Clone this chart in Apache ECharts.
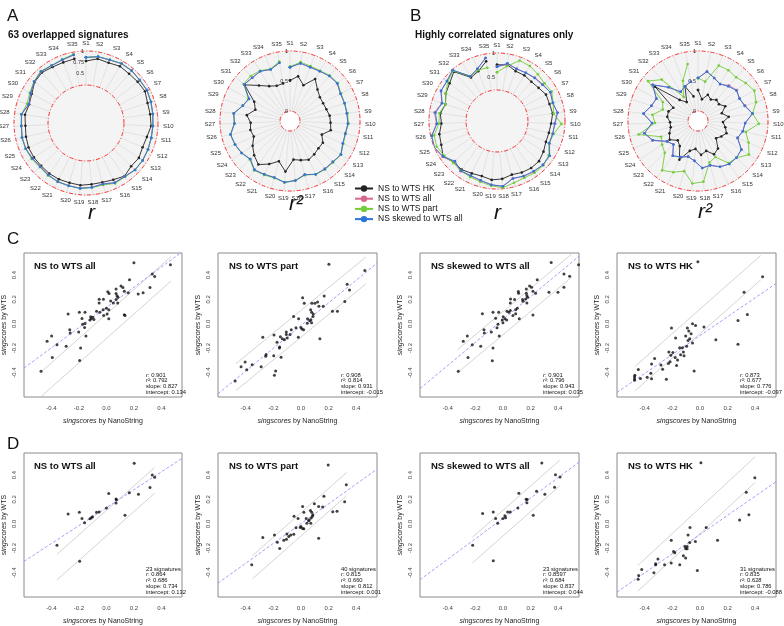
<!DOCTYPE html>
<html><head><meta charset="utf-8">
<script src="https://cdn.jsdelivr.net/npm/echarts@6/dist/echarts.min.js"></script>
<style>html,body{margin:0;padding:0;background:#fff}#c{width:784px;height:626px}</style>
</head><body><div id="c"></div>
<script>
// ---------------- DATA ----------------
const SIGNATURES = ['S1','S2','S3','S4','S5','S6','S7','S8','S9','S10','S11','S12','S13','S14','S15','S16','S17','S18','S19','S20','S21','S22','S23','S24','S25','S26','S27','S28','S29','S30','S31','S32','S33','S34','S35'];
const SERIES_NAMES = ['NS to WTS HK','NS to WTS all','NS to WTS part','NS skewed to WTS all'];

// Panel A, r
const A_r_HK     = [0.78,0.85,0.83,0.87,0.855,0.87,0.89,0.84,0.84,0.85,0.79,0.77,0.81,0.79,0.86,0.80,0.77,0.77,0.79,0.78,0.79,0.79,0.78,0.79,0.79,0.77,0.75,0.77,0.73,0.77,0.86,0.89,0.85,0.84,0.85];
const A_r_all    = [0.855,0.895,0.895,0.935,0.94,0.925,0.935,0.915,0.895,0.885,0.885,0.895,0.905,0.905,0.865,0.87,0.805,0.835,0.855,0.845,0.845,0.825,0.805,0.825,0.855,0.855,0.835,0.845,0.735,0.795,0.87,0.915,0.885,0.895,0.935];
const A_r_part   = [0.86,0.90,0.90,0.94,0.945,0.93,0.94,0.92,0.90,0.89,0.89,0.90,0.91,0.91,0.88,0.89,0.83,0.84,0.86,0.85,0.85,0.84,0.82,0.85,0.86,0.86,0.84,0.85,0.78,0.82,0.88,0.93,0.89,0.91,0.955];
const A_r_skewed = [0.86,0.90,0.90,0.94,0.945,0.93,0.94,0.92,0.90,0.89,0.89,0.90,0.91,0.91,0.87,0.875,0.81,0.84,0.86,0.85,0.85,0.83,0.81,0.83,0.86,0.86,0.84,0.85,0.74,0.80,0.875,0.92,0.89,0.90,0.94];
// Panel A, r^2
const A_r2_HK     = [0.51,0.59,0.47,0.65,0.53,0.47,0.46,0.47,0.50,0.51,0.53,0.41,0.49,0.49,0.52,0.55,0.51,0.48,0.68,0.53,0.63,0.73,0.66,0.58,0.49,0.51,0.49,0.56,0.44,0.51,0.80,0.62,0.51,0.46,0.47];
const A_r2_all    = [0.73,0.81,0.79,0.80,0.83,0.84,0.79,0.79,0.79,0.80,0.78,0.79,0.85,0.82,0.82,0.82,0.76,0.83,0.86,0.81,0.82,0.84,0.75,0.80,0.83,0.85,0.76,0.78,0.66,0.61,0.81,0.79,0.80,0.75,0.82];
const A_r2_part   = [0.74,0.83,0.81,0.81,0.84,0.85,0.80,0.79,0.80,0.81,0.78,0.80,0.85,0.83,0.83,0.82,0.77,0.83,0.86,0.82,0.83,0.85,0.76,0.80,0.83,0.85,0.76,0.78,0.66,0.62,0.82,0.83,0.81,0.76,0.84];
const A_r2_skewed = [0.73,0.81,0.79,0.80,0.83,0.84,0.79,0.79,0.79,0.80,0.78,0.79,0.85,0.82,0.82,0.82,0.76,0.83,0.86,0.81,0.82,0.84,0.75,0.80,0.83,0.85,0.76,0.78,0.66,0.61,0.81,0.79,0.80,0.75,0.82];
// Panel B, r
const B_r_HK     = [0.76,0.78,0.70,0.70,0.68,0.70,0.75,0.74,0.76,0.72,0.70,0.70,0.75,0.80,0.80,0.78,0.75,0.80,0.82,0.78,0.80,0.84,0.83,0.93,0.85,0.82,0.75,0.78,0.72,0.80,0.85,0.95,0.65,0.70,0.85];
const B_r_all    = [0.72,0.80,0.75,0.76,0.79,0.81,0.85,0.81,0.86,0.80,0.78,0.78,0.90,0.91,0.89,0.87,0.83,0.95,0.92,0.87,0.86,0.88,0.82,0.94,1.00,0.98,0.85,0.90,0.80,0.91,0.92,0.99,0.68,0.75,0.92];
const B_r_part   = [0.61,0.75,0.93,0.92,0.88,0.85,0.88,0.82,0.78,0.93,0.80,0.77,0.88,0.92,0.92,0.90,0.92,0.98,0.94,0.90,0.88,0.86,0.85,0.90,0.95,0.93,0.80,0.80,0.72,0.80,0.90,0.97,0.68,0.72,0.72];
const B_r_skewed = [0.72,0.81,0.75,0.76,0.78,0.80,0.85,0.81,0.86,0.79,0.78,0.77,0.90,0.91,0.88,0.86,0.83,0.95,0.92,0.87,0.85,0.87,0.80,0.93,1.00,0.98,0.84,0.88,0.79,0.91,0.92,0.99,0.68,0.75,0.92];
// Panel B, r^2
const B_r2_HK     = [0.35,0.20,0.30,0.25,0.30,0.28,0.35,0.25,0.35,0.25,0.30,0.35,0.30,0.25,0.40,0.45,0.35,0.40,0.30,0.35,0.55,0.35,0.30,0.40,0.35,0.30,0.30,0.35,0.35,0.30,0.75,0.30,0.20,0.45,0.25];
const B_r2_all    = [0.55,0.67,0.60,0.55,0.62,0.66,0.62,0.66,0.75,0.62,0.60,0.55,0.70,0.72,0.72,0.68,0.60,0.62,0.50,0.45,0.50,0.55,0.40,0.45,0.66,0.75,0.60,0.75,0.65,0.62,0.80,0.58,0.40,0.45,0.50];
const B_r2_part   = [0.55,0.50,0.82,0.82,0.80,0.85,0.90,0.85,0.75,0.85,0.65,0.75,0.85,0.72,0.70,0.50,0.55,0.85,0.88,0.70,0.78,0.85,0.60,0.55,0.50,0.85,0.55,0.60,0.45,0.50,0.90,0.75,0.30,0.55,0.80];
const B_r2_skewed = [0.55,0.67,0.60,0.55,0.60,0.65,0.62,0.65,0.75,0.62,0.60,0.55,0.70,0.72,0.72,0.68,0.60,0.62,0.50,0.45,0.50,0.55,0.40,0.45,0.65,0.75,0.60,0.75,0.65,0.62,0.80,0.58,0.40,0.45,0.50];

// Panel C scatter (NanoString x, WTS y)
const C1_points = [[0.20,0.50],[0.466,0.483],[0.334,0.407],[0.351,0.388],[0.168,0.361],[0.317,0.298],[0.267,0.255],[0.231,0.244],[0.106,0.309],[0.12,0.298],[0.07,0.285],[0.13,0.266],[0.159,0.255],[0.01,0.263],[0.019,0.249],[0.07,0.249],[0.077,0.23],[0.084,0.217],[0.07,0.198],[-0.053,0.2],[-0.022,0.2],[0.031,0.187],[0.05,0.171],[0.082,0.171],[-0.053,0.171],[0,0.127],[-0.024,0.114],[0.017,0.114],[-0.072,0.103],[-0.048,0.095],[0.005,0.081],[-0.02,0.068],[0.017,0.041],[0.13,0.073],[0.135,0.068],[-0.197,0.095],[-0.156,0.095],[-0.279,0.081],[-0.178,0.043],[-0.115,0.057],[-0.11,0.041],[-0.1,0.054],[-0.12,0.03],[-0.091,0.035],[-0.156,0.003],[-0.173,-0.003],[-0.159,-0.03],[-0.267,-0.049],[-0.264,-0.076],[-0.202,-0.068],[-0.149,-0.1],[-0.399,-0.1],[-0.432,-0.144],[-0.36,-0.171],[-0.293,-0.184],[-0.188,-0.198],[-0.394,-0.277],[-0.195,-0.301],[-0.476,-0.388]];
const C2_points = [[0.202,0.488],[0.462,0.437],[0.334,0.323],[0.351,0.277],[0.168,0.228],[0.012,0.214],[0.079,0.168],[0.101,0.168],[0.12,0.179],[0.13,0.144],[0.161,0.144],[0.317,0.182],[0.264,0.103],[0.228,0.103],[0.07,0.114],[0.077,0.095],[0.089,0.081],[0.024,0.168],[-0.053,0.06],[-0.017,0.041],[0.048,0.041],[0.087,0.06],[0.063,0.024],[0.046,0.005],[0.077,0.008],[0.072,0.032],[0,-0.03],[0.007,-0.043],[0.019,-0.049],[-0.036,-0.033],[-0.019,-0.111],[0.137,-0.122],[-0.07,-0.049],[-0.106,-0.068],[-0.079,-0.087],[-0.106,-0.087],[-0.099,-0.117],[-0.135,-0.122],[-0.12,-0.13],[-0.149,-0.106],[-0.195,-0.092],[-0.276,-0.111],[-0.173,-0.152],[-0.154,-0.19],[-0.156,-0.198],[-0.144,-0.274],[-0.252,-0.252],[-0.255,-0.266],[-0.197,-0.263],[-0.404,-0.314],[-0.353,-0.336],[-0.433,-0.352],[-0.392,-0.377],[-0.288,-0.352],[-0.183,-0.387],[-0.192,-0.422],[-0.476,-0.468]];
const C3_points = [[0.349,0.503],[0.547,0.484],[0.441,0.408],[0.482,0.389],[0.248,0.361],[0.441,0.299],[0.398,0.258],[0.333,0.258],[0.193,0.31],[0.207,0.299],[0.169,0.285],[0.217,0.266],[0.236,0.25],[0.111,0.264],[0.113,0.25],[0.169,0.25],[0.173,0.231],[0.178,0.217],[0.164,0.204],[0.142,0.198],[0.055,0.204],[0.084,0.198],[0.145,0.185],[0.173,0.171],[0.053,0.171],[0.104,0.128],[0.053,0.109],[0.092,0.114],[0.029,0.103],[0.043,0.095],[0.092,0.082],[0.072,0.068],[0.118,0.041],[0.217,0.071],[-0.149,0.082],[-0.072,0.095],[-0.031,0.095],[-0.053,0.046],[0.002,0.057],[0.014,0.041],[-0.005,0.03],[0.027,0.03],[0,0.008],[-0.036,-0.003],[-0.043,-0.033],[-0.137,-0.049],[-0.135,-0.076],[-0.084,-0.068],[-0.027,-0.1],[-0.258,-0.1],[-0.287,-0.144],[-0.222,-0.171],[-0.161,-0.185],[-0.072,-0.198],[-0.253,-0.277],[-0.077,-0.302],[-0.323,-0.389]];
const C4_points = [[-0.015,0.508],[0.453,0.386],[0.319,0.258],[0.343,0.076],[0.275,0.027],[0.275,-0.168],[0.115,-0.13],[-0.054,0],[-0.032,-0.014],[0.029,-0.027],[-0.206,-0.035],[-0.091,-0.035],[-0.081,-0.06],[-0.064,-0.082],[-0.103,-0.1],[-0.074,-0.122],[-0.086,-0.136],[-0.176,-0.117],[-0.054,-0.158],[-0.127,-0.196],[-0.147,-0.196],[-0.096,-0.185],[-0.12,-0.231],[-0.14,-0.253],[-0.115,-0.261],[-0.196,-0.236],[-0.225,-0.231],[-0.211,-0.258],[-0.179,-0.277],[-0.162,-0.296],[-0.216,-0.312],[-0.228,-0.326],[-0.169,-0.342],[-0.328,-0.285],[-0.35,-0.329],[-0.282,-0.337],[-0.27,-0.372],[-0.042,-0.386],[-0.446,-0.375],[-0.355,-0.405],[-0.382,-0.438],[-0.431,-0.448],[-0.471,-0.421],[-0.473,-0.435],[-0.473,-0.45],[-0.473,-0.462],[-0.35,-0.451],[-0.243,-0.454]];
// Panel D scatter
const D1_points = [[0.202,0.497],[0.334,0.40],[0.351,0.381],[0.317,0.297],[0.233,0.243],[0.166,0.254],[0.017,0.249],[0.07,0.203],[0.072,0.197],[0.07,0.17],[0,0.13],[-0.053,0.097],[-0.072,0.095],[-0.197,0.095],[-0.279,0.081],[-0.178,0.043],[-0.101,0.057],[-0.12,0.041],[-0.11,0.05],[-0.159,0.008],[0.135,0.07],[-0.36,-0.176],[-0.195,-0.308]];
const D2_points = [[0.197,0.481],[0.328,0.32],[0.316,0.18],[0.166,0.226],[0.097,0.164],[0.157,0.137],[0.128,0.142],[0.012,0.142],[0.021,0.094],[0.069,0.108],[0.078,0.094],[0.086,0.075],[0.083,0.062],[0.23,0.099],[0.261,0.102],[-0.05,0.062],[-0.021,0.043],[0.038,0.043],[0.074,0.048],[0.055,0.024],[0.071,0.005],[0.043,0.005],[0,-0.022],[0.012,-0.038],[0.021,-0.04],[-0.036,-0.032],[0.128,-0.118],[-0.052,-0.086],[-0.074,-0.091],[-0.102,-0.083],[-0.192,-0.091],[-0.276,-0.113],[-0.088,-0.105],[-0.105,-0.126],[-0.124,-0.134],[-0.171,-0.151],[-0.154,-0.202],[-0.356,-0.336],[-0.005,-0.03],[0.06,0.03]];
const D3_points = [[0.281,0.499],[0.38,0.402],[0.413,0.383],[0.373,0.299],[0.243,0.267],[0.303,0.243],[0.115,0.251],[0.168,0.202],[0.175,0.199],[0.173,0.172],[0.108,0.129],[0.053,0.097],[0.034,0.097],[-0.07,0.097],[-0.147,0.084],[-0.053,0.043],[0.014,0.065],[0,0.043],[0.019,0.049],[-0.038,0.005],[0.219,0.07],[-0.219,-0.175],[-0.07,-0.302]];
const D4_points = [[0.007,0.501],[0.397,0.378],[0.335,0.259],[0.354,0.075],[0.287,0.03],[-0.072,-0.03],[0.045,-0.03],[0.127,-0.135],[-0.033,-0.146],[-0.086,-0.092],[-0.074,-0.154],[-0.108,-0.186],[-0.093,-0.186],[-0.103,-0.205],[-0.208,-0.135],[-0.191,-0.227],[-0.182,-0.238],[-0.12,-0.262],[-0.103,-0.281],[-0.146,-0.335],[-0.208,-0.321],[-0.304,-0.289],[-0.32,-0.327],[-0.32,-0.335],[-0.256,-0.335],[-0.333,-0.402],[-0.421,-0.375],[-0.443,-0.423],[-0.447,-0.455],[-0.019,-0.383],[-0.093,-0.205]];

const PANEL_TITLES = ['NS to WTS all','NS to WTS part','NS skewed to WTS all','NS to WTS HK'];
const C_r   = ['0.901','0.908','0.901','0.873'];
const C_r2  = ['0.792','0.814','0.796','0.677'];
const C_slope = [0.827,0.931,0.943,0.776];
const C_intercept = [0.134,-0.015,0.035,-0.097];
const D_n   = [23,40,23,31];
const D_r   = ['0.864','0.815','0.8597','0.835'];
const D_r2  = ['0.686','0.660','0.684','0.628'];
const D_slope = [0.734,0.812,0.837,0.786];
const D_intercept = [0.132,0.001,0.044,-0.088];
// grey guide lines: [slope, upper offset, lower offset, x from, x to]
const C_guides = [[1.0,0.08,-0.12,-0.47,0.47],[0.93,0.11,-0.11,-0.47,0.47],[0.95,0.10,-0.09,-0.33,0.50],[1.0,0.12,-0.08,-0.47,0.44]];
const D_guides = [[1.0,0.11,-0.10,-0.36,0.35],[1.0,0.09,-0.10,-0.35,0.33],[1.0,0.11,-0.10,-0.22,0.41],[1.05,0.13,-0.08,-0.45,0.40]];

// ---------------- STYLE ----------------
const FONT = 'Liberation Sans';
const COLORS = ['#232323','#d7698f','#73cc3a','#2f74d8'];
const chart = echarts.init(document.getElementById('c'), null, {renderer:'canvas'});

const radarSets = [
  [A_r_HK, A_r_all, A_r_part, A_r_skewed],
  [A_r2_HK, A_r2_all, A_r2_part, A_r2_skewed],
  [B_r_HK, B_r_all, B_r_part, B_r_skewed],
  [B_r2_HK, B_r2_all, B_r2_part, B_r2_skewed]
];
const polarCfg = [
  {center:[86,123], radius:[38,72], min:0.25, max:1, interval:0.25, labels:[0.5,0.75,1]},
  {center:[290,121], radius:[10,70], min:0, max:1, interval:0.5, labels:[0,0.5,1]},
  {center:[497,121], radius:[31,68], min:0.25, max:1, interval:0.25, labels:[0.5,1]},
  {center:[698,121], radius:[10,70], min:0, max:1, interval:0.5, labels:[0,0.5,1]}
];

const polar = polarCfg.map(p => ({center:p.center, radius:p.radius}));
const angleAxis = polarCfg.map((p,i) => ({
  polarIndex:i, type:'category', data:SIGNATURES, startAngle:90, clockwise:true, boundaryGap:false,
  axisLine:{show:true, lineStyle:{color:'#ff3535', width:1, type:[4,2,1,2]}},
  axisTick:{show:false},
  axisLabel:{fontSize:6, color:'#333', margin:5, fontFamily:FONT},
  splitLine:{show:true, lineStyle:{color:'#d6d6d6', width:0.6}}
}));
const radiusAxis = polarCfg.map((p,i) => ({
  polarIndex:i, min:p.min, max:p.max, interval:p.interval,
  axisLine:{show:false}, axisTick:{show:false},
  axisLabel:{fontSize:5.5, color:'#333', fontFamily:FONT, margin:2,
    formatter: v => p.labels.some(l => Math.abs(l-v)<1e-6) ? String(+v.toFixed(2)) : ''},
  splitLine:{show:true, lineStyle:{color:'#a8a8a8', width:0.6, type:[3,2]}},
  splitArea:{show:true, areaStyle:{color:['#f3f3f3']}}
}));

const series = [];
radarSets.forEach((set, pi) => {
  set.forEach((vals, k) => {
    series.push({
      type:'line', name:SERIES_NAMES[k], coordinateSystem:'polar', polarIndex:pi,
      data: vals.map((v,i)=>[v,i]).concat([[vals[0],0]]),
      symbol:'circle', symbolSize:2.6, showSymbol:true,
      lineStyle:{width:0.9, color:COLORS[k]}, itemStyle:{color:COLORS[k]},
      z: 3+k, animation:false, silent:true
    });
  });
});

// scatter grids
const gridLefts = [23,218,420,617];
const grids = [], xAxes = [], yAxes = [];
const tickFmt = v => {
  if (v < -0.41 || v > 0.41) return '';
  if (Math.abs(v) < 1e-9) return '0.0';
  return v.toFixed(1);
};
const italicRich = {i:{fontStyle:'italic', fontSize:7, fontFamily:FONT, color:'#222'}};
[253,453].forEach((top,row) => {
  gridLefts.forEach((left,col) => {
    const gi = grids.length;
    grids.push({left:left, top:top, width:159, height:144, show:true, borderColor:'#8a8a8a', borderWidth:1, backgroundColor:'transparent'});
    xAxes.push({gridIndex:gi, type:'value', min:-0.6, max:0.55, interval:0.2,
      axisLine:{show:false}, axisTick:{show:false}, splitLine:{show:false},
      axisLabel:{fontSize:6, color:'#444', margin:8, fontFamily:FONT, formatter:tickFmt, showMaxLabel:false},
      name:'{i|singscores} by NanoString', nameLocation:'middle', nameGap:21,
      nameTextStyle:{fontSize:7, color:'#222', fontFamily:FONT, rich:italicRich}});
    yAxes.push({gridIndex:gi, type:'value', min:-0.6, max:0.58, interval:0.2,
      axisLine:{show:false}, axisTick:{show:false}, splitLine:{show:false},
      axisLabel:{fontSize:6, color:'#444', margin:7, rotate:90, fontFamily:FONT, formatter:tickFmt, showMaxLabel:false},
      name:'{i|singscores} by WTS', nameLocation:'middle', nameGap:16,
      nameTextStyle:{fontSize:7, color:'#222', fontFamily:FONT, rich:italicRich}});
  });
});

const scatterSets = [C1_points,C2_points,C3_points,C4_points,D1_points,D2_points,D3_points,D4_points];
const slopes = C_slope.concat(D_slope);
const intercepts = C_intercept.concat(D_intercept);
const guides = C_guides.concat(D_guides);
scatterSets.forEach((pts, gi) => {
  const g = guides[gi];
  [g[1], g[2]].forEach(off => {
    series.push({type:'line', xAxisIndex:gi, yAxisIndex:gi, symbol:'none', silent:true, animation:false, z:1,
      data:[[g[3], g[0]*g[3]+off],[g[4], g[0]*g[4]+off]],
      lineStyle:{color:'#cfcfcf', width:0.9}});
  });
  const xs = [-0.6, 0.55];
  series.push({type:'line', xAxisIndex:gi, yAxisIndex:gi, symbol:'none', silent:true, animation:false, z:2,
    data: xs.map(x => [x, slopes[gi]*x + intercepts[gi]]),
    lineStyle:{color:'#9494ff', width:0.9, type:[3,2]}});
  series.push({type:'scatter', xAxisIndex:gi, yAxisIndex:gi, data:pts, symbolSize:3, silent:true, animation:false, z:3,
    itemStyle:{color:'#111'}});
});

// texts
const titles = [
  {text:'A', left:2, top:3, textStyle:{fontSize:17, fontWeight:'normal', color:'#111', fontFamily:FONT}},
  {text:'B', left:405, top:3, textStyle:{fontSize:17, fontWeight:'normal', color:'#111', fontFamily:FONT}},
  {text:'C', left:2, top:226, textStyle:{fontSize:17, fontWeight:'normal', color:'#111', fontFamily:FONT}},
  {text:'D', left:2, top:431, textStyle:{fontSize:17, fontWeight:'normal', color:'#111', fontFamily:FONT}},
  {text:'63 overlapped signatures', left:3, top:25, textStyle:{fontSize:10, fontWeight:'bold', color:'#111', fontFamily:FONT}},
  {text:'Highly correlated signatures only', left:410, top:25, textStyle:{fontSize:10, fontWeight:'bold', color:'#111', fontFamily:FONT}},
  {text:'r', left:83, top:198, textStyle:{fontSize:21, fontStyle:'italic', fontWeight:'normal', color:'#111', fontFamily:FONT}},
  {text:'r²', left:284, top:189, textStyle:{fontSize:21, fontStyle:'italic', fontWeight:'normal', color:'#111', fontFamily:FONT}},
  {text:'r', left:489, top:198, textStyle:{fontSize:21, fontStyle:'italic', fontWeight:'normal', color:'#111', fontFamily:FONT}},
  {text:'r²', left:693, top:197, textStyle:{fontSize:21, fontStyle:'italic', fontWeight:'normal', color:'#111', fontFamily:FONT}}
];
const statRich = {i:{fontStyle:'italic', fontSize:5.8, fontFamily:FONT, color:'#111', lineHeight:5.8}};
[253,453].forEach((top,row) => {
  gridLefts.forEach((left,col) => {
    titles.push({text:PANEL_TITLES[col], left:left+6, top:top+3,
      textStyle:{fontSize:9.5, fontWeight:'bold', color:'#111', fontFamily:FONT}});
    let lines;
    if (row === 0) {
      lines = ['{i|r}: '+C_r[col], '{i|r}²: '+C_r2[col], 'slope: '+C_slope[col].toFixed(3), 'intercept: '+C_intercept[col].toFixed(3)];
    } else {
      lines = [D_n[col]+' signatures', '{i|r}: '+D_r[col], '{i|r}²: '+D_r2[col], 'slope: '+D_slope[col].toFixed(3), 'intercept: '+D_intercept[col].toFixed(3)];
    }
    titles.push({text:lines.join('\n'), left:left+118, top: row===0 ? top+114 : top+108,
      textStyle:{fontSize:5.8, lineHeight:5.8, fontWeight:'normal', color:'#111', fontFamily:FONT, rich:statRich}});
  });
});

const graphic = [
  {type:'circle', shape:{cx:86, cy:123, r:38}, style:{fill:'#f4f4f4'}, z:-1, silent:true},
  {type:'circle', shape:{cx:497, cy:121, r:31}, style:{fill:'#f4f4f4'}, z:-1, silent:true}
];

chart.setOption({
  animation:false,
  backgroundColor:'#ffffff',
  textStyle:{fontFamily:FONT},
  title:titles,
  legend:{data:SERIES_NAMES, orient:'vertical', left:349, top:179, itemWidth:18, itemHeight:8, itemGap:1.2,
    textStyle:{fontSize:8.5, color:'#111', fontFamily:FONT}, selectedMode:false},
  polar, angleAxis, radiusAxis,
  grid:grids, xAxis:xAxes, yAxis:yAxes,
  graphic,
  series
});
</script></body></html>
